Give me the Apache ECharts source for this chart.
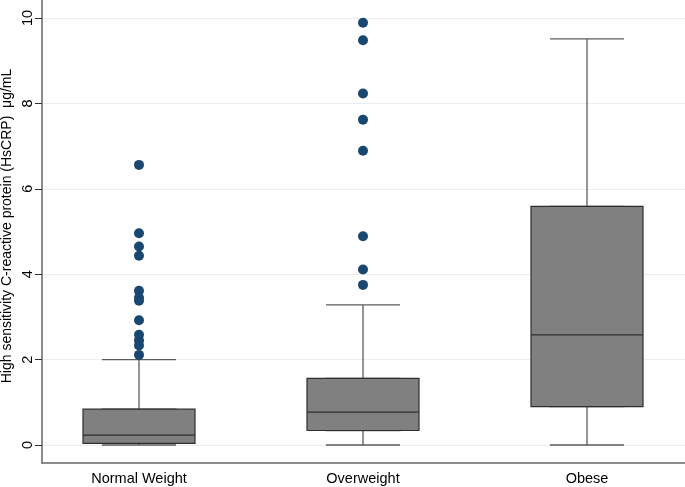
<!DOCTYPE html>
<html>
<head>
<meta charset="utf-8">
<script src="https://cdn.jsdelivr.net/npm/echarts@6/dist/echarts.min.js"></script>
<style>html,body{margin:0;padding:0;background:#fff}#c{width:685px;height:487px}</style>
</head>
<body>
<div id="c"></div>
<script>
const categories = ['Normal Weight', 'Overweight', 'Obese'];
const whiskerLow = [0, 0, 0];
const q1 = [0.04, 0.34, 0.90];
const median = [0.23, 0.77, 2.58];
const q3 = [0.84, 1.56, 5.59];
const whiskerHigh = [2.0, 3.28, 9.51];
const outliersNormal = [6.56, 4.96, 4.65, 4.43, 3.61, 3.45, 3.38, 2.92, 2.58, 2.45, 2.33, 2.11];
const outliersOverweight = [9.89, 9.48, 8.23, 7.62, 6.89, 4.89, 4.11, 3.75];
const outliersObese = [];
const yTitle = 'High sensitivity C-reactive protein (HsCRP)  μg/mL';

const FONT = "'Liberation Sans', Arial, sans-serif";
const whiskerData = categories.map((c, i) => [whiskerLow[i], q1[i], median[i], q3[i], whiskerHigh[i]]);
const boxData = categories.map((c, i) => [q1[i], q1[i], median[i], q3[i], q3[i]]);
const outlierData = [];
[outliersNormal, outliersOverweight, outliersObese].forEach((arr, i) => {
  arr.forEach(v => outlierData.push([i, v]));
});

const chart = echarts.init(document.getElementById('c'), null, {renderer: 'canvas'});
chart.setOption({
  animation: false,
  backgroundColor: '#ffffff',
  textStyle: {fontFamily: FONT},
  grid: [
    {left: 27, width: 672, top: 18, bottom: 42, outerBoundsMode: 'none', containLabel: false},
    {left: 42, right: 0, top: 18, bottom: 42, outerBoundsMode: 'none', containLabel: false},
    {left: 42, right: 0, top: 0, bottom: 24, outerBoundsMode: 'none', containLabel: false}
  ],
  xAxis: [
    {type: 'category', gridIndex: 0, data: categories, boundaryGap: true,
     axisLine: {show: false}, axisTick: {show: false}, splitLine: {show: false},
     axisLabel: {margin: 26, fontSize: 14.5, color: '#000', fontFamily: FONT}},
    {type: 'category', gridIndex: 0, data: categories, show: false},
    {type: 'value', gridIndex: 1, show: false, min: 0, max: 1},
    {type: 'value', gridIndex: 2, min: 0, max: 1,
     axisLine: {show: true, lineStyle: {color: '#666', width: 1.5}},
     axisTick: {show: false}, axisLabel: {show: false}, splitLine: {show: false}}
  ],
  yAxis: [
    {type: 'value', gridIndex: 0, min: 0, max: 10, show: false},
    {type: 'value', gridIndex: 1, min: 0, max: 10, interval: 2,
     axisLine: {show: false},
     axisTick: {show: true, length: 7, lineStyle: {color: '#333', width: 1}},
     axisLabel: {rotate: 90, margin: 7, fontSize: 14.5, color: '#000', fontFamily: FONT},
     splitLine: {show: true, lineStyle: {color: '#e6eef1', width: 1}}},
    {type: 'value', gridIndex: 2, min: 0, max: 1,
     axisLine: {show: true, lineStyle: {color: '#666', width: 1.5}},
     axisTick: {show: false}, axisLabel: {show: false}, splitLine: {show: false}}
  ],
  graphic: [
    {type: 'text', x: 7, y: 226, rotation: Math.PI / 2,
     style: {text: yTitle, fontSize: 14, fill: '#000', fontFamily: FONT, align: 'center', verticalAlign: 'middle'}}
  ],
  series: [
    {type: 'boxplot', xAxisIndex: 1, yAxisIndex: 0, data: whiskerData,
     boxWidth: [74, 74], z: 2,
     itemStyle: {color: '#808080', borderColor: '#5c5c5c', borderWidth: 1.3},
     emphasis: {disabled: true}},
    {type: 'boxplot', xAxisIndex: 0, yAxisIndex: 0, data: boxData,
     boxWidth: [112, 112], z: 3,
     itemStyle: {color: '#808080', borderColor: '#2e2e2e', borderWidth: 1.2},
     emphasis: {disabled: true}},
    {type: 'scatter', xAxisIndex: 0, yAxisIndex: 0, data: outlierData,
     symbol: 'circle', symbolSize: 10, z: 4,
     itemStyle: {color: '#1a476f', opacity: 1},
     emphasis: {disabled: true}}
  ]
});
</script>
</body>
</html>
